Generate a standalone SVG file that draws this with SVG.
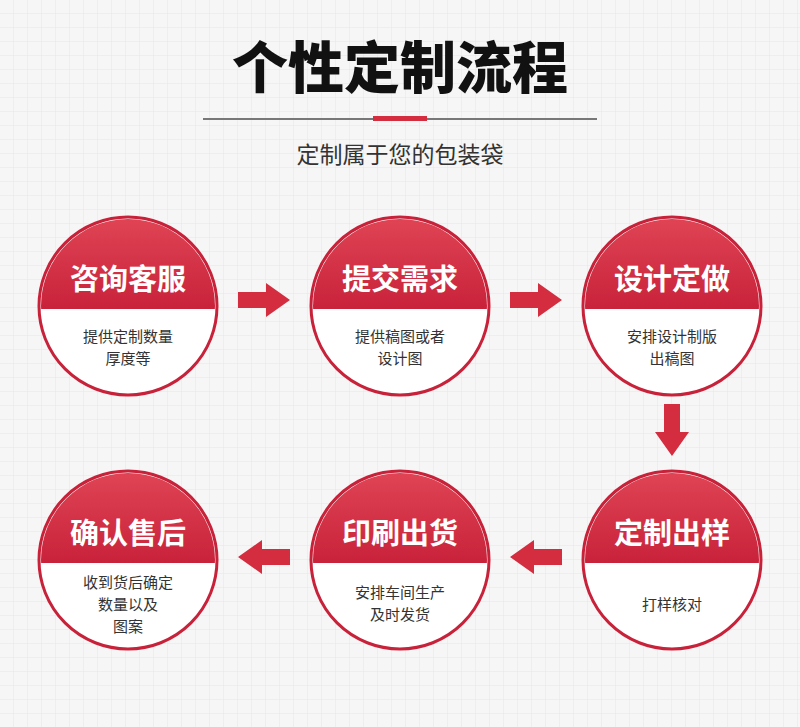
<svg xmlns="http://www.w3.org/2000/svg" width="800" height="727" viewBox="0 0 800 727">
<defs>
<pattern id="g" width="14" height="14" patternUnits="userSpaceOnUse"><rect width="14" height="14" fill="#f6f6f6"/><path d="M14 0V14H0" fill="none" stroke="#e6e6e6" stroke-width="1"/></pattern>
<linearGradient id="rg" x1="0" y1="0" x2="0" y2="1"><stop offset="0" stop-color="#e04555"/><stop offset="1" stop-color="#c8223a"/></linearGradient>
<clipPath id="c"><circle cx="0" cy="0" r="87"/></clipPath>
<g id="node"><circle r="89" fill="#fff" stroke="#c8223a" stroke-width="3"/><rect x="-90" y="-90" width="180" height="93" fill="url(#rg)" clip-path="url(#c)"/></g>
<path id="ar" d="M-26 -8H2V-17L26 0L2 17V8H-26Z" fill="#d42d40"/>
</defs>
<style>
.t{font-family:"Noto Sans CJK SC",sans-serif;font-weight:bold;font-size:29px;fill:#fff;text-anchor:middle}
.s{font-family:"Noto Sans CJK SC",sans-serif;font-size:15px;fill:#333;text-anchor:middle}
</style>
<rect width="800" height="727" fill="url(#g)"/>
<text x="400" y="88" font-family="Noto Sans CJK SC,sans-serif" font-weight="900" font-size="56" text-anchor="middle" fill="#111">个性定制流程</text>
<rect x="203" y="118" width="394" height="2" fill="#777"/>
<rect x="373" y="116" width="54" height="5" fill="#d42d40"/>
<text x="400" y="163" font-family="Noto Sans CJK SC,sans-serif" font-size="23" text-anchor="middle" fill="#333">定制属于您的包装袋</text>
<g id="n1" transform="translate(128,306)"><use href="#node"/><text class="t" y="-16">咨询客服</text><text class="s" y="36">提供定制数量</text><text class="s" y="58">厚度等</text></g>
<g id="n2" transform="translate(400,306)"><use href="#node"/><text class="t" y="-16">提交需求</text><text class="s" y="36">提供稿图或者</text><text class="s" y="58">设计图</text></g>
<g id="n3" transform="translate(672,306)"><use href="#node"/><text class="t" y="-16">设计定做</text><text class="s" y="36">安排设计制版</text><text class="s" y="58">出稿图</text></g>
<g id="n4" transform="translate(672,560)"><use href="#node"/><text class="t" y="-16">定制出样</text><text class="s" y="50">打样核对</text></g>
<g id="n5" transform="translate(400,560)"><use href="#node"/><text class="t" y="-16">印刷出货</text><text class="s" y="38">安排车间生产</text><text class="s" y="60">及时发货</text></g>
<g id="n6" transform="translate(128,560)"><use href="#node"/><text class="t" y="-16">确认售后</text><text class="s" y="28">收到货后确定</text><text class="s" y="50">数量以及</text><text class="s" y="72">图案</text></g>
<g id="connectors">
<use href="#ar" transform="translate(264,300)"/>
<use href="#ar" transform="translate(536,300)"/>
<use href="#ar" transform="translate(672,430) rotate(90)"/>
<use href="#ar" transform="translate(536,557) rotate(180)"/>
<use href="#ar" transform="translate(264,557) rotate(180)"/>
</g>
</svg>
